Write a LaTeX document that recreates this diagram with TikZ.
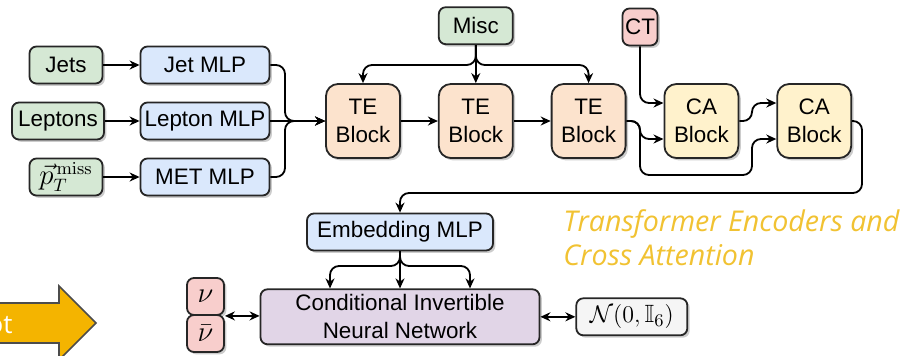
\documentclass[tikz,border=0pt]{standalone}
\usepackage{amsmath}
\usepackage{amssymb}
\usepackage[no-math]{fontspec}
\setmainfont{Liberation Sans}
\newfontfamily\notefont{Open Sans}
\usetikzlibrary{positioning,arrows.meta,shadows}
\definecolor{ingreen}{HTML}{D5E8D4}
\definecolor{mlpblue}{HTML}{DAE8FC}
\definecolor{tepeach}{HTML}{FCE3CD}
\definecolor{cayellow}{HTML}{FFF2CC}
\definecolor{nupink}{HTML}{F8CECC}
\definecolor{flowpurple}{HTML}{E1D5E7}
\definecolor{normgray}{HTML}{F5F5F5}
\definecolor{notecolor}{HTML}{F1C232}
\definecolor{arrowyellow}{HTML}{F4B400}

\begin{document}
\begin{tikzpicture}[x=0.5pt,y=-0.5pt,
  every node/.style={font=\fontsize{11.2}{14}\selectfont},
  box/.style={draw=black!85,line width=0.9pt,rounded corners=3.5pt,minimum height=18.5pt,inner sep=0pt,align=center,
    drop shadow={shadow xshift=1.2pt,shadow yshift=-1.2pt,fill=black!40,opacity=0.5}},
  inbox/.style={box,fill=ingreen,minimum width=36.5pt},
  mlp/.style={box,fill=mlpblue,minimum width=64.5pt},
  teblock/.style={box,fill=tepeach,minimum width=37pt,minimum height=37pt,rounded corners=6pt},
  cablock/.style={teblock,fill=cayellow},
  nubox/.style={box,fill=nupink,minimum width=18.5pt,font=\fontsize{15}{16}\selectfont},
  conn/.style={-{Stealth[length=5pt,width=4.5pt]},line width=0.9pt,rounded corners=4.5pt},
  both/.style={conn,{Stealth[length=5pt,width=4.5pt]}-{Stealth[length=5pt,width=4.5pt]}}]
\useasboundingbox (0,0) rectangle (905,355);

% inputs and their MLPs
\node[inbox] (jets) at (66,65) {Jets};
\node[inbox,minimum width=46pt] (leptons) at (58,121) {Leptons};
\node[inbox,font=\fontsize{13.5}{14}\selectfont] (met) at (66,177) {$\vec{p}_T^{\,\mathrm{miss}}$};
\node[mlp] (jetmlp) at (205,65) {Jet MLP};
\node[mlp] (lepmlp) at (205,121) {Lepton MLP};
\node[mlp] (metmlp) at (205,177) {MET MLP};

% transformer encoders and cross attention
\node[teblock] (te1) at (363,121) {TE\\Block};
\node[teblock,right=18.5pt of te1] (te2) {TE\\Block};
\node[teblock,right=18.5pt of te2] (te3) {TE\\Block};
\node[cablock,right=18.5pt of te3] (ca1) {CA\\Block};
\node[cablock,right=18.5pt of ca1] (ca2) {CA\\Block};
\node[inbox,minimum width=37pt,above=19pt of te2] (misc) {Misc};
\node[box,fill=nupink,minimum width=17.5pt] (ct) at (640,27) {CT};

% flow part
\node[mlp,minimum width=93pt] (emb) at (400,232) {Embedding MLP};
\node[box,fill=flowpurple,minimum width=139.5pt,minimum height=27.5pt,below=18.5pt of emb] (cinn) {Conditional Invertible\\Neural Network};
\node[nubox] (nu) at (205.5,296.5) {$\nu$};
\node[nubox,below=-0.9pt of nu] (nubar) {$\bar{\nu}$};
\node[box,fill=normgray,minimum width=55.5pt,right=17.5pt of cinn,font=\fontsize{12.5}{14}\selectfont] (norm) {$\mathcal{N}(0,\mathbb{I}_6)$};

\node[anchor=north west,align=left,inner sep=0pt,text=notecolor,font=\notefont\itshape\fontsize{14.3}{17}\selectfont] (note) at (563,209) {Transformer Encoders and\\Cross Attention};

% cut-off arrow at the left
\draw[fill=arrowyellow,draw=black!70,line width=0.8pt] (-20,303) -- (59,303) -- (59,286) -- (96,323) -- (59,360) -- (59,343) -- (-20,343) -- cycle;
\node[anchor=base east,text=white,inner sep=0pt,font=\notefont\fontsize{13}{15}\selectfont] (partial) at (13,333) {ot};

% connectors
\draw[conn] (jets) -- (jetmlp);
\draw[conn] (leptons) -- (lepmlp);
\draw[conn] (met) -- (metmlp);
\coordinate (mx) at (285,121);
\draw[conn] (jetmlp.east) -| (mx) -- (te1.west);
\draw[conn] (metmlp.east) -| (mx) -- (te1.west);
\draw[conn] (lepmlp) -- (te1);
\coordinate (ms) at (misc.south |- jets);
\draw[conn] (misc.south) -- (ms) -| (te1.north);
\draw[conn] (misc) -- (te2);
\draw[conn] (misc.south) -- (ms) -| (te3.north);
\draw[conn] (te1) -- (te2);
\draw[conn] (te2) -- (te3);
\draw[conn] (ct.south) |- ([yshift=9pt]ca1.west);
\coordinate (tk) at (ct.south |- te3.east);
\draw[conn] (te3.east) -- (tk) |- ([yshift=-9pt]ca1.west);
\draw[conn] (te3.east) -| (640,175) -| (752,139) -- ([yshift=-9pt]ca2.west);
\draw[conn] (ca1.east) -- (752,121) |- ([yshift=9pt]ca2.west);
\draw[conn] (ca2.east) -| (862,193) -| (emb.north);
\coordinate (es) at (400,266);
\draw[conn] (emb.south) -- (es) -| ([xshift=-35pt]cinn.north);
\draw[conn] (emb) -- (cinn);
\draw[conn] (emb.south) -- (es) -| ([xshift=35pt]cinn.north);
\draw[both] (nu.south east) -- (nu.south east -| cinn.west);
\draw[both] (cinn) -- (norm);
\end{tikzpicture}
\end{document}
